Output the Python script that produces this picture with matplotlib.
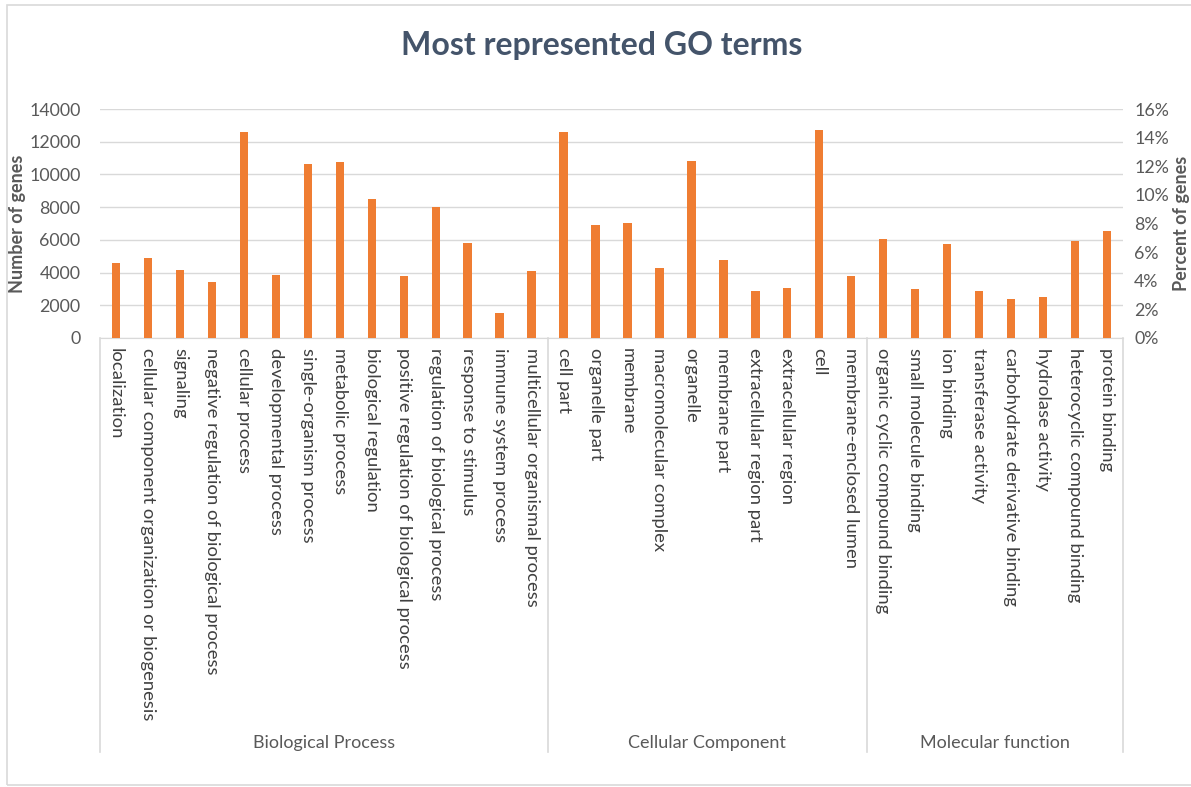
import matplotlib.pyplot as plt
from matplotlib.ticker import FuncFormatter
from matplotlib.patches import Rectangle

plt.rcParams['font.family'] = ['Lato', 'DejaVu Sans']

# GO terms per category
bp_terms = ["localization", "cellular component organization or biogenesis", "signaling",
            "negative regulation of biological process", "cellular process", "developmental process",
            "single-organism process", "metabolic process", "biological regulation",
            "positive regulation of biological process", "regulation of biological process",
            "response to stimulus", "immune system process", "multicellular organismal process"]
bp_counts = [4600, 4920, 4150, 3450, 12620, 3850, 10650, 10780, 8480, 3780, 7980, 5800, 1500, 4100]

cc_terms = ["cell part", "organelle part", "membrane", "macromolecular complex", "organelle",
            "membrane part", "extracellular region part", "extracellular region", "cell",
            "membrane-enclosed lumen"]
cc_counts = [12620, 6880, 7010, 4280, 10820, 4780, 2880, 3050, 12700, 3780]

mf_terms = ["organic cyclic compound binding", "small molecule binding", "ion binding",
            "transferase activity", "carbohydrate derivative binding", "hydrolase activity",
            "heterocyclic compound binding", "protein binding"]
mf_counts = [6070, 3000, 5750, 2880, 2370, 2490, 5960, 6560]

groups = ["Biological Process", "Cellular Component", "Molecular function"]

terms = bp_terms + cc_terms + mf_terms
counts = bp_counts + cc_counts + mf_counts
sizes = [len(bp_terms), len(cc_terms), len(mf_terms)]

W, H = 1191, 787
fig = plt.figure(figsize=(W / 100, H / 100), dpi=100)

grey = '#595959'
line_grey = '#D9D9D9'

# outer chart border
fig.patches.append(Rectangle((7 / W, 2 / H), 1.2, (780 / H), transform=fig.transFigure,
                             fill=False, edgecolor=line_grey, lw=1.2))

ax = fig.add_axes([100 / W, (H - 338) / H, 1023 / W, 229 / H])
x = list(range(len(terms)))
ax.bar(x, counts, width=0.26, color='#EF7D32', zorder=3)
ax.set_xlim(-0.5, len(terms) - 0.5)
ax.set_ylim(0, 14000)
ax.set_yticks(range(0, 14001, 2000))
ax.yaxis.grid(True, color=line_grey, lw=1, zorder=0)
for s in ['top', 'right', 'left']:
    ax.spines[s].set_visible(False)
ax.spines['bottom'].set_color(line_grey)
ax.tick_params(axis='y', length=0, labelsize=12.8, labelcolor=grey, pad=14)
ax.set_xticks(x)
ax.set_xticklabels(terms, rotation=-90, ha='center', va='top', fontsize=13.3, color='#404040')
ax.tick_params(axis='x', length=0, pad=7)
ax.set_ylabel("Number of genes", fontsize=13, fontweight='bold', color=grey)
ax.yaxis.set_label_coords(-74 / 1023, 0.5)

ax2 = ax.twinx()
ax2.set_ylim(0, 16)
ax2.set_yticks(range(0, 17, 2))
ax2.yaxis.set_major_formatter(FuncFormatter(lambda v, p: f"{int(v)}%"))
for s in ax2.spines.values():
    s.set_visible(False)
ax2.tick_params(axis='y', length=0, labelsize=12.8, labelcolor=grey, pad=8)
ax2.set_ylabel("Percent of genes", fontsize=13, fontweight='bold', color=grey, rotation=90)
ax2.yaxis.set_label_coords(1 + 50 / 1023, 0.5)

# group frame below the category axis
tr = ax.get_xaxis_transform()
bottom = -(752 - 338) / 229
bounds = [-0.5]
for n in sizes:
    bounds.append(bounds[-1] + n)
for b in bounds:
    ax.plot([b, b], [0, bottom], transform=tr, color=line_grey, lw=1.2, clip_on=False)
for i, g in enumerate(groups):
    ax.text((bounds[i] + bounds[i + 1]) / 2, -(743 - 338) / 229, g, transform=tr,
            ha='center', va='center', fontsize=13, color=grey)

fig.text(0.505, 1 - 45 / H, "Most represented GO terms", ha='center', va='center',
         fontsize=23, fontweight='bold', color='#44546A')

fig.savefig('out.png', dpi=100)
